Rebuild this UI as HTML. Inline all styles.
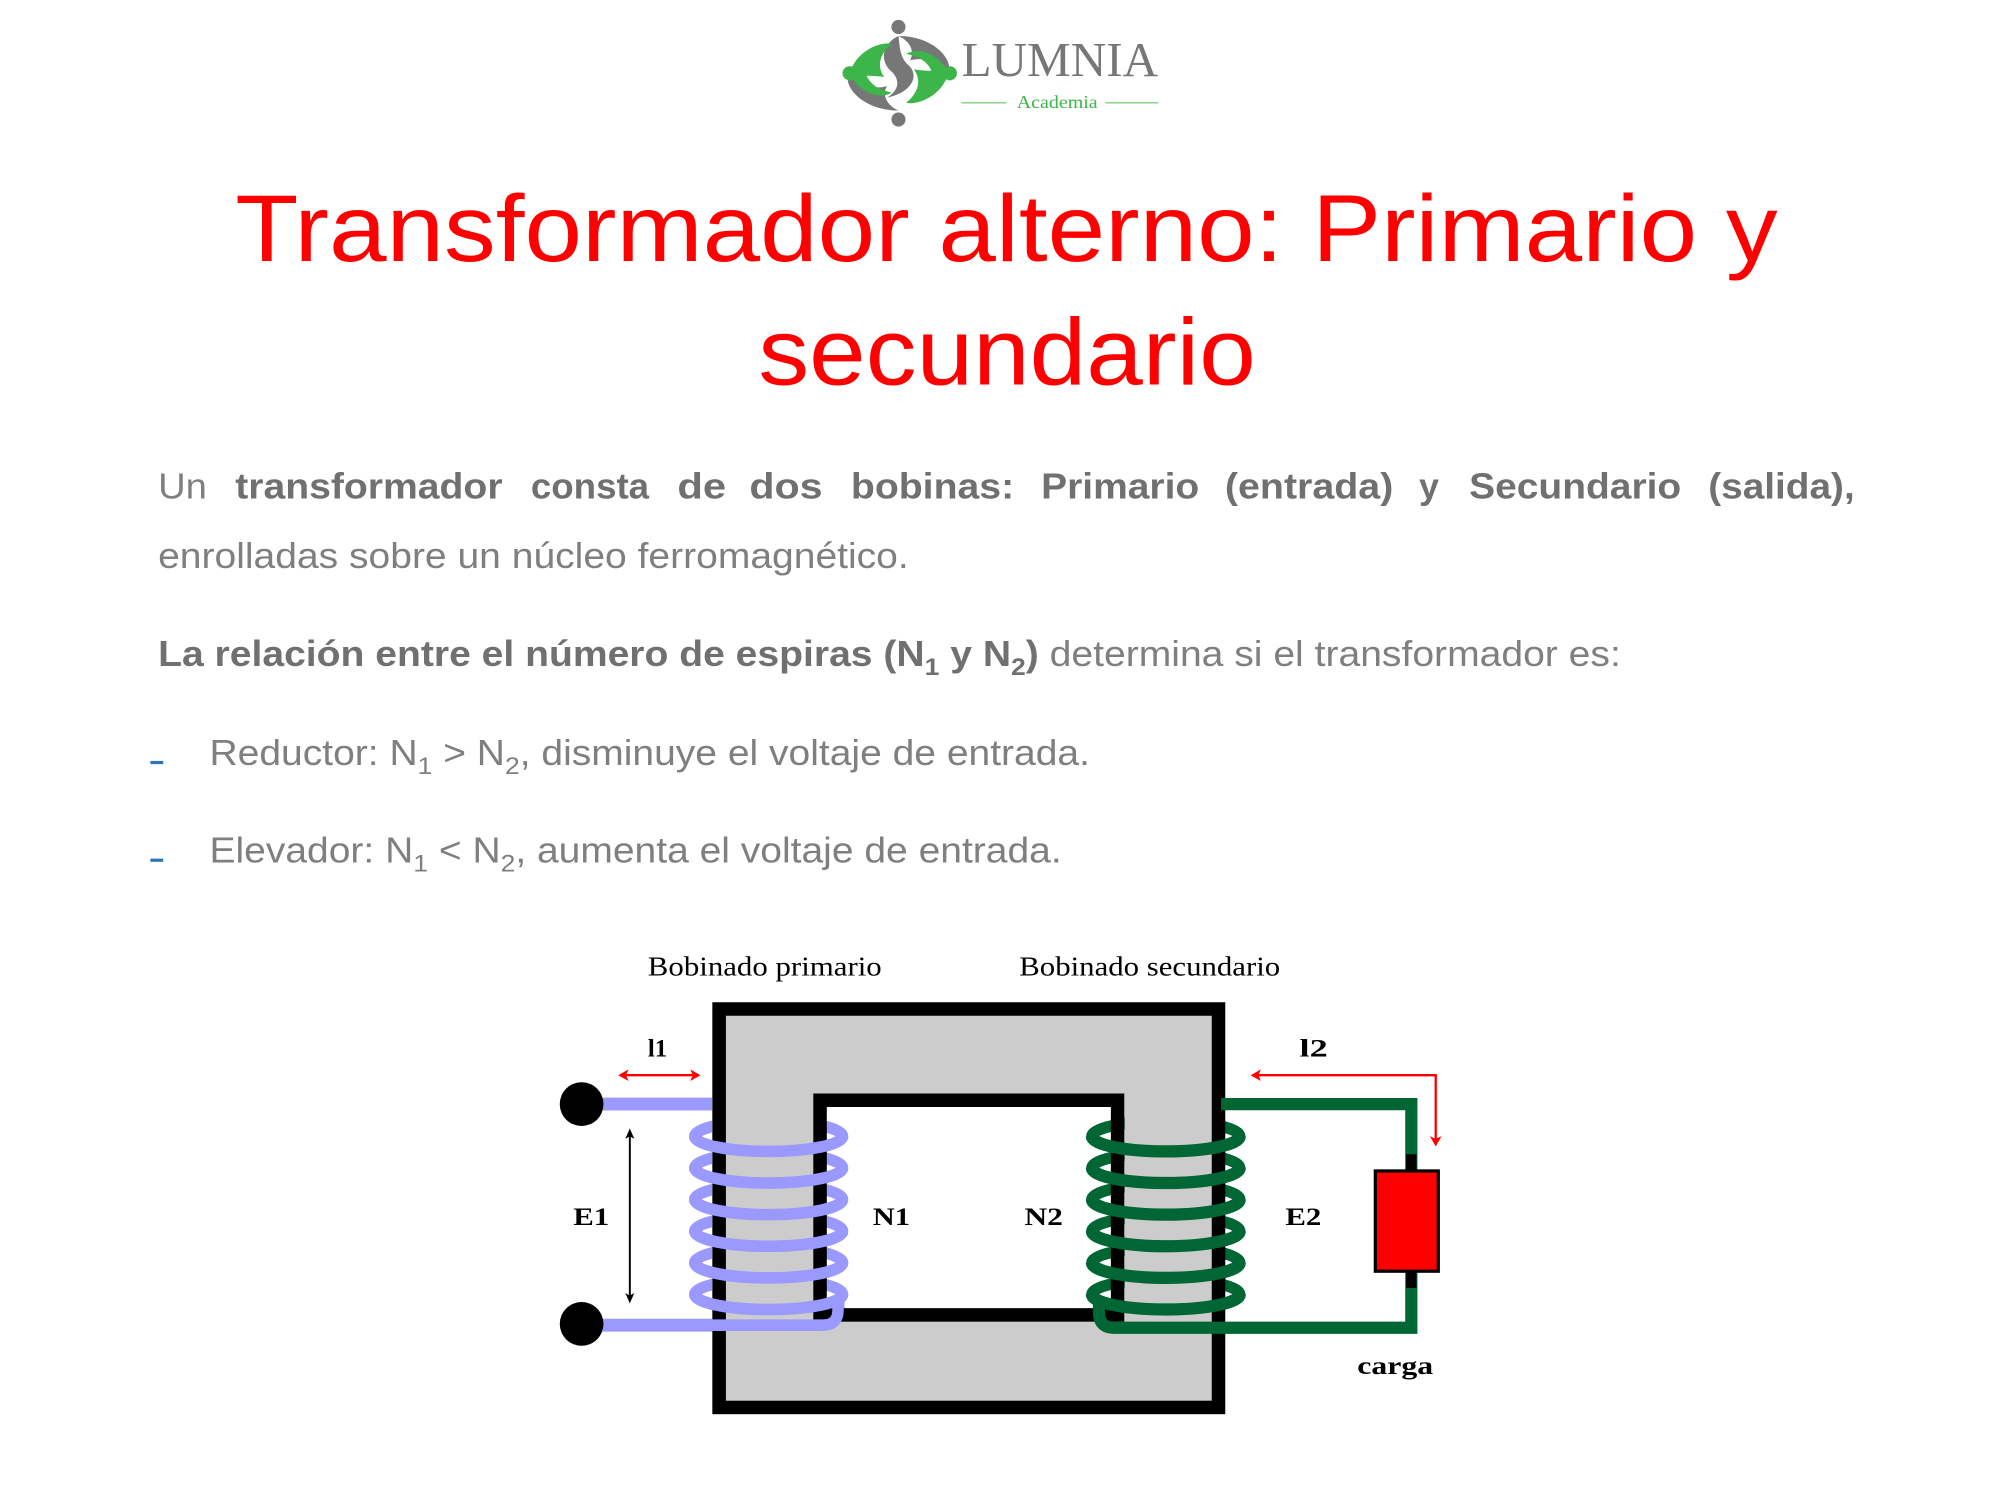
<!DOCTYPE html>
<html><head><meta charset="utf-8"><style>
html,body{margin:0;padding:0;background:#fff;}
svg{display:block;}
</style></head><body>
<svg width="2000" height="1500" viewBox="0 0 1556 1167" xmlns="http://www.w3.org/2000/svg">
<rect width="1556" height="1167" fill="#fff"/>
<!-- Logo -->
<g>
  <path d="M699,28 C725,28 742,45 738,57 C730,48 718,44 708,47 C712,40 708,32 699,28 Z" fill="#777"/>
  <path d="M699,28 C686,34 684,48 694,56 C700,62 700,70 690,76 C710,72 716,58 706,50 C700,44 700,36 699,28Z" fill="#777"/>
  <path d="M699,86 C673,86 656,69 660,57 C668,66 680,70 690,67 C686,74 690,82 699,86 Z" fill="#777"/>
  <path d="M661,57 C666,40 684,32 694,34 C684,42 682,52 688,60 C676,58 668,60 661,57Z" fill="#3cb54a"/>
  <path d="M738,57 C733,74 715,82 705,80 C715,72 717,62 711,54 C723,56 731,54 738,57Z" fill="#3cb54a"/>
  <path d="M661,57 C668,72 684,78 694,72 C682,70 676,64 674,58Z" fill="#3cb54a"/>
  <path d="M738,57 C731,42 715,36 705,42 C717,44 723,50 725,56Z" fill="#3cb54a"/>
  <circle cx="699" cy="21" r="5.5" fill="#777"/>
  <circle cx="699" cy="93" r="5.5" fill="#777"/>
  <circle cx="661" cy="57" r="5.5" fill="#3cb54a"/>
  <circle cx="739" cy="57" r="5.5" fill="#3cb54a"/>
  <text x="748" y="59" font-family="Liberation Serif, serif" font-size="38" fill="#777" textLength="153" lengthAdjust="spacingAndGlyphs">LUMNIA</text>
  <text x="791" y="84" font-family="Liberation Serif, serif" font-size="14" fill="#3cb54a" textLength="63" lengthAdjust="spacingAndGlyphs">Academia</text>
  <line x1="748" y1="80" x2="783" y2="80" stroke="#7fd07f" stroke-width="1"/>
  <line x1="860" y1="80" x2="901" y2="80" stroke="#7fd07f" stroke-width="1"/>
</g>
<!-- Title -->
<g font-family="Liberation Sans, Arial, sans-serif" fill="#ff0000" font-size="74">
  <text x="183" y="203" textLength="1200" lengthAdjust="spacingAndGlyphs">Transformador alterno: Primario y</text>
  <text x="590" y="299" textLength="387" lengthAdjust="spacingAndGlyphs">secundario</text>
</g>
<!-- Body -->
<g font-family="Liberation Sans, Arial, sans-serif" font-size="28" fill="#7f7f7f">
  <text y="388"><tspan x="123" textLength="38" lengthAdjust="spacingAndGlyphs">Un</tspan><tspan x="183" font-weight="bold" fill="#707070" textLength="208" lengthAdjust="spacingAndGlyphs">transformador</tspan><tspan x="413" font-weight="bold" fill="#707070" textLength="92" lengthAdjust="spacingAndGlyphs">consta</tspan><tspan x="527" font-weight="bold" fill="#707070" textLength="38" lengthAdjust="spacingAndGlyphs">de</tspan><tspan x="583" font-weight="bold" fill="#707070" textLength="57" lengthAdjust="spacingAndGlyphs">dos</tspan><tspan x="662" font-weight="bold" fill="#707070" textLength="127" lengthAdjust="spacingAndGlyphs">bobinas:</tspan><tspan x="810" font-weight="bold" fill="#707070" textLength="123" lengthAdjust="spacingAndGlyphs">Primario</tspan><tspan x="953" font-weight="bold" fill="#707070" textLength="131" lengthAdjust="spacingAndGlyphs">(entrada)</tspan><tspan x="1104" font-weight="bold" fill="#707070">y</tspan><tspan x="1143" font-weight="bold" fill="#707070" textLength="165" lengthAdjust="spacingAndGlyphs">Secundario</tspan><tspan x="1329" font-weight="bold" fill="#707070" textLength="114" lengthAdjust="spacingAndGlyphs">(salida),</tspan></text>
  <text x="123" y="442" textLength="584" lengthAdjust="spacingAndGlyphs">enrolladas sobre un núcleo ferromagnético.</text>
  <text x="123" y="518" textLength="1138" lengthAdjust="spacingAndGlyphs"><tspan font-weight="bold" fill="#707070">La relación entre el número de espiras (N<tspan font-size="19" dy="7">1</tspan><tspan dy="-7"> y N</tspan><tspan font-size="19" dy="7">2</tspan><tspan dy="-7">)</tspan></tspan> determina si el transformador es:</text>
  <text x="163" y="595" textLength="685" lengthAdjust="spacingAndGlyphs">Reductor: N<tspan font-size="19" dy="7">1</tspan><tspan dy="-7"> &gt; N</tspan><tspan font-size="19" dy="7">2</tspan><tspan dy="-7">, disminuye el voltaje de entrada.</tspan></text>
  <text x="163" y="671" textLength="663" lengthAdjust="spacingAndGlyphs">Elevador: N<tspan font-size="19" dy="7">1</tspan><tspan dy="-7"> &lt; N</tspan><tspan font-size="19" dy="7">2</tspan><tspan dy="-7">, aumenta el voltaje de entrada.</tspan></text>
  <rect x="117" y="592" width="10" height="2.5" fill="#2e75b6"/>
  <rect x="117" y="668" width="10" height="2.5" fill="#2e75b6"/>
</g>
<!-- Diagram -->
<g>
  <line x1="452" y1="859" x2="558" y2="859" stroke="#9999ff" stroke-width="10"/>
  <path d="M452,1031 L640,1031 Q652,1031 652,1019 L652,1009" fill="none" stroke="#9999ff" stroke-width="10"/>
  <circle cx="452.5" cy="859" r="17" fill="#000"/>
  <circle cx="452.5" cy="1030" r="17" fill="#000"/>
  <g fill="none" stroke="#9999ff" stroke-width="9">
    <ellipse cx="598" cy="884" rx="57.5" ry="11.8"/>
    <ellipse cx="598" cy="908.6" rx="57.5" ry="11.8"/>
    <ellipse cx="598" cy="933.2" rx="57.5" ry="11.8"/>
    <ellipse cx="598" cy="957.8" rx="57.5" ry="11.8"/>
    <ellipse cx="598" cy="982.4" rx="57.5" ry="11.8"/>
    <ellipse cx="598" cy="1007" rx="57.5" ry="11.8"/>
  </g>
  <g fill="none" stroke="#006633" stroke-width="9">
    <ellipse cx="907" cy="884" rx="57.5" ry="11.8"/>
    <ellipse cx="907" cy="908.6" rx="57.5" ry="11.8"/>
    <ellipse cx="907" cy="933.2" rx="57.5" ry="11.8"/>
    <ellipse cx="907" cy="957.8" rx="57.5" ry="11.8"/>
    <ellipse cx="907" cy="982.4" rx="57.5" ry="11.8"/>
    <ellipse cx="907" cy="1007" rx="57.5" ry="11.8"/>
  </g>
  <path d="M554,780 H953 V1100 H554 Z M633,851 V1028 H875 V851 Z" fill="#cccccc" fill-rule="evenodd"/>
  <rect x="559.5" y="785" width="388.5" height="310" fill="none" stroke="#000" stroke-width="10.5"/>
  <rect x="638" y="856" width="231.5" height="167" fill="none" stroke="#000" stroke-width="10.5"/>
  <g fill="none" stroke="#9999ff" stroke-width="9">
    <path d="M540.5,884 A57.5,11.8 0 0 0 655.5,884"/>
    <path d="M540.5,908.6 A57.5,11.8 0 0 0 655.5,908.6"/>
    <path d="M540.5,933.2 A57.5,11.8 0 0 0 655.5,933.2"/>
    <path d="M540.5,957.8 A57.5,11.8 0 0 0 655.5,957.8"/>
    <path d="M540.5,982.4 A57.5,11.8 0 0 0 655.5,982.4"/>
    <path d="M540.5,1007 A57.5,11.8 0 0 0 655.5,1007"/>
    <path d="M652,1009 L652,1019 Q652,1031 640,1031 L554,1031"/>
  </g>
  <g fill="none" stroke="#006633" stroke-width="9.5">
    <path d="M849.5,884 A57.5,11.8 0 0 0 964.5,884"/>
    <path d="M849.5,908.6 A57.5,11.8 0 0 0 964.5,908.6"/>
    <path d="M849.5,933.2 A57.5,11.8 0 0 0 964.5,933.2"/>
    <path d="M849.5,957.8 A57.5,11.8 0 0 0 964.5,957.8"/>
    <path d="M849.5,982.4 A57.5,11.8 0 0 0 964.5,982.4"/>
    <path d="M849.5,1007 A57.5,11.8 0 0 0 964.5,1007"/>
    <path d="M855,1009 L855,1021 Q855,1033 867,1033 L1098,1033 L1098,990"/>
    <path d="M950,859 L1098,859 L1098,910"/>
  </g>
  <rect x="1094" y="898" width="8" height="12" fill="#000"/>
  <rect x="1094" y="990" width="8" height="12" fill="#000"/>
  <rect x="1070" y="911" width="49" height="78" fill="#ff0000" stroke="#000" stroke-width="2.5"/>
  <g stroke="#ff0000" stroke-width="1.8" fill="none">
    <line x1="485" y1="836.5" x2="541" y2="836.5"/>
    <polyline points="977,836.5 1117,836.5 1117,887"/>
  </g>
  <g fill="#ff0000">
    <path d="M481,836.5 L489,832 L487,836.5 L489,841 Z"/>
    <path d="M545,836.5 L537,832 L539,836.5 L537,841 Z"/>
    <path d="M973,836.5 L981,832 L979,836.5 L981,841 Z"/>
    <path d="M1117,892 L1112.5,884 L1117,886 L1121.5,884 Z"/>
  </g>
  <line x1="490" y1="883" x2="490" y2="1009" stroke="#000" stroke-width="1.5"/>
  <path d="M490,878 L486.5,886 L490,884 L493.5,886 Z" fill="#000"/>
  <path d="M490,1014 L486.5,1006 L490,1008 L493.5,1006 Z" fill="#000"/>
  <g font-family="Liberation Serif, serif" fill="#000">
    <text x="504" y="759" font-size="21" textLength="182" lengthAdjust="spacingAndGlyphs">Bobinado primario</text>
    <text x="793" y="759" font-size="21" textLength="203" lengthAdjust="spacingAndGlyphs">Bobinado secundario</text>
    <g font-weight="bold" font-size="20">
      <text x="504" y="822" textLength="15" lengthAdjust="spacingAndGlyphs">l1</text>
      <text x="1011" y="822" textLength="22" lengthAdjust="spacingAndGlyphs">l2</text>
      <text x="446" y="953" textLength="28" lengthAdjust="spacingAndGlyphs">E1</text>
      <text x="679" y="953" textLength="29" lengthAdjust="spacingAndGlyphs">N1</text>
      <text x="797" y="953" textLength="30" lengthAdjust="spacingAndGlyphs">N2</text>
      <text x="1000" y="953" textLength="28" lengthAdjust="spacingAndGlyphs">E2</text>
      <text x="1056" y="1069" textLength="59" lengthAdjust="spacingAndGlyphs">carga</text>
    </g>
  </g>
</g>
</svg>
</body></html>
